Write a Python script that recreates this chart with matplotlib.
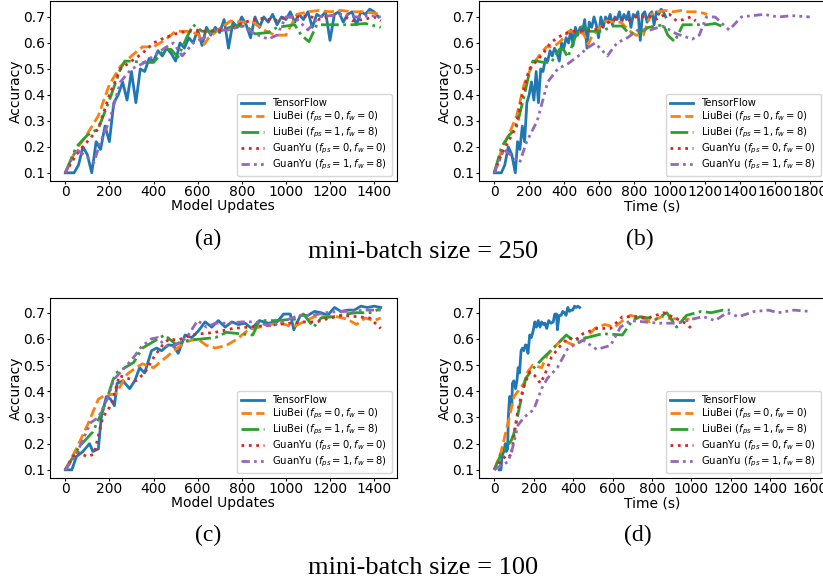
import matplotlib
matplotlib.use('Agg')
import matplotlib.pyplot as plt
from matplotlib.ticker import MultipleLocator

# ---- mini-batch size = 250 ----
# TensorFlow: accuracy per model update (every 20 updates) and wall-clock time
tf250_updates = list(range(0, 1440, 20))
tf250_acc = [0.10, 0.10, 0.10, 0.13, 0.20, 0.17, 0.10, 0.22, 0.19, 0.28,
             0.22, 0.37, 0.40, 0.45, 0.38, 0.49, 0.37, 0.50, 0.49, 0.54,
             0.53, 0.57, 0.55, 0.58, 0.56, 0.53, 0.60, 0.58, 0.62, 0.60,
             0.65, 0.59, 0.66, 0.63, 0.66, 0.64, 0.69, 0.58, 0.68, 0.66,
             0.70, 0.67, 0.62, 0.70, 0.66, 0.70, 0.68, 0.71, 0.67, 0.70,
             0.69, 0.72, 0.68, 0.71, 0.69, 0.72, 0.66, 0.71, 0.70, 0.72,
             0.61, 0.71, 0.72, 0.68, 0.71, 0.72, 0.67, 0.72, 0.71, 0.73,
             0.72, 0.70]
tf250_time = [0, 20, 40, 60, 80, 100, 120, 133, 146, 160, 173, 186, 199, 212,
              226, 239, 252, 265, 278, 292, 305, 318, 331, 344, 358, 371, 384,
              397, 410, 424, 437, 450, 463, 476, 490, 503, 516, 529, 542, 556,
              569, 582, 595, 608, 622, 635, 648, 661, 674, 688, 701, 714, 727,
              740, 754, 767, 780, 793, 806, 820, 833, 846, 859, 872, 886, 899,
              912, 925, 938, 952, 965, 978]

lb0_250_updates = [0, 50, 100, 150, 200, 250, 300, 350, 400, 450, 500, 550, 600,
                   630, 650, 700, 750, 800, 850, 900, 950, 1000, 1050, 1100,
                   1150, 1200, 1250, 1300, 1350, 1400, 1430]
lb0_250_acc = [0.10, 0.19, 0.25, 0.32, 0.44, 0.51, 0.55, 0.585, 0.585, 0.61,
               0.645, 0.645, 0.635, 0.595, 0.62, 0.655, 0.685, 0.68, 0.68, 0.65,
               0.63, 0.63, 0.71, 0.72, 0.725, 0.72, 0.725, 0.72, 0.72, 0.715,
               0.71]
lb0_250_time = [0, 43, 85, 128, 170, 213, 255, 298, 340, 383, 425, 468, 510,
                536, 553, 595, 638, 680, 723, 765, 808, 850, 893, 935, 978,
                1020, 1063, 1105, 1148, 1190, 1215]

lb1_250_updates = [0, 50, 100, 150, 200, 250, 270, 300, 350, 400, 450, 480, 510,
                   550, 580, 620, 700, 760, 820, 860, 920, 960, 1040, 1070,
                   1105, 1140, 1200, 1300, 1360, 1430]
lb1_250_acc = [0.10, 0.20, 0.245, 0.27, 0.38, 0.50, 0.53, 0.53, 0.525, 0.525,
               0.575, 0.575, 0.545, 0.62, 0.67, 0.645, 0.645, 0.665, 0.665,
               0.635, 0.64, 0.66, 0.67, 0.63, 0.605, 0.67, 0.67, 0.67, 0.675,
               0.66]
lb1_250_time = [0, 42, 84, 124, 165, 205, 220, 243, 283, 325, 371, 395, 420,
                460, 505, 545, 615, 675, 730, 770, 830, 880, 965, 990, 1029,
                1076, 1130, 1210, 1260, 1314]

gy0_250_updates = [0, 50, 100, 150, 200, 250, 300, 350, 400, 450, 500, 550, 600,
                   650, 700, 750, 800, 850, 900, 950, 1000, 1050, 1100, 1150,
                   1200, 1250, 1300, 1350, 1400, 1430]
gy0_250_acc = [0.10, 0.17, 0.22, 0.27, 0.40, 0.50, 0.53, 0.56, 0.60, 0.62,
               0.635, 0.645, 0.645, 0.645, 0.65, 0.655, 0.675, 0.69, 0.695,
               0.685, 0.70, 0.70, 0.705, 0.69, 0.705, 0.71, 0.685, 0.69, 0.70,
               0.685]
gy0_250_time = [0, 40, 80, 120, 160, 200, 240, 280, 320, 360, 400, 440, 480,
                520, 560, 600, 640, 680, 720, 760, 800, 840, 880, 920, 960,
                1000, 1040, 1080, 1120, 1150]

gy1_250_updates = [0, 50, 100, 130, 160, 200, 250, 300, 350, 400, 450, 490, 530,
                   580, 630, 680, 740, 800, 860, 920, 960, 1000, 1040, 1100,
                   1150, 1200, 1260, 1320, 1380, 1430]
gy1_250_acc = [0.10, 0.19, 0.16, 0.14, 0.22, 0.30, 0.45, 0.50, 0.52, 0.55,
               0.58, 0.60, 0.55, 0.60, 0.62, 0.65, 0.65, 0.665, 0.635, 0.615,
               0.63, 0.70, 0.70, 0.65, 0.70, 0.705, 0.71, 0.70, 0.705, 0.70]
gy1_250_time = [0, 55, 110, 145, 185, 245, 305, 362, 420, 480, 530, 575, 645,
                700, 760, 820, 890, 960, 1040, 1130, 1170, 1210, 1260, 1340,
                1410, 1470, 1540, 1620, 1700, 1800]

# ---- mini-batch size = 100 ----
tf100_updates = [0, 30, 50, 80, 110, 125, 150, 163, 186, 205, 223, 235, 261,
                 292, 315, 337, 360, 391, 414, 437, 467, 490, 512, 543, 573,
                 603, 634, 664, 694, 725, 755, 785, 815, 845, 880, 920, 960,
                 990, 1020, 1036, 1066, 1100, 1130, 1160, 1190, 1220, 1250,
                 1280, 1310, 1340, 1370, 1400, 1430]
tf100_acc = [0.10, 0.10, 0.15, 0.17, 0.20, 0.17, 0.18, 0.30, 0.38, 0.37,
             0.345, 0.43, 0.44, 0.41, 0.44, 0.49, 0.47, 0.555, 0.565, 0.555,
             0.577, 0.575, 0.545, 0.615, 0.605, 0.63, 0.665, 0.645, 0.67, 0.645,
             0.665, 0.655, 0.66, 0.64, 0.67, 0.66, 0.665, 0.695, 0.695, 0.635,
             0.69, 0.69, 0.705, 0.70, 0.69, 0.72, 0.705, 0.71, 0.71, 0.725,
             0.72, 0.725, 0.72]
tf100_time = [25, 34, 39, 48, 56, 61, 68, 71, 78, 83, 89, 92, 99, 108, 115, 121,
              128, 136, 143, 150, 158, 165, 171, 180, 188, 197, 206, 214, 223,
              232, 240, 249, 257, 266, 276, 287, 299, 307, 316, 320, 329, 339,
              347, 356, 364, 373, 381, 390, 398, 407, 415, 424, 433]

lb0_100_updates = [0, 50, 100, 150, 180, 230, 280, 320, 350, 400, 450, 500, 550,
                   600, 640, 680, 730, 780, 830, 880, 930, 980, 1030, 1080,
                   1130, 1180, 1230, 1280, 1320, 1360, 1400, 1430]
lb0_100_acc = [0.10, 0.18, 0.27, 0.37, 0.385, 0.39, 0.465, 0.49, 0.505, 0.49,
               0.525, 0.56, 0.59, 0.60, 0.575, 0.565, 0.575, 0.60, 0.635, 0.645,
               0.655, 0.66, 0.645, 0.665, 0.685, 0.685, 0.685, 0.675, 0.655,
               0.68, 0.67, 0.68]
lb0_100_time = [0, 35, 70, 100, 150, 170, 195, 240, 270, 300, 345, 375, 410,
                460, 510, 560, 610, 660, 690, 750, 790, 850, 900, 950, 990]
lb0_100_tacc = [0.10, 0.17, 0.28, 0.38, 0.43, 0.475, 0.50, 0.49, 0.54, 0.565,
                0.60, 0.585, 0.575, 0.60, 0.64, 0.655, 0.645, 0.675, 0.69, 0.68,
                0.665, 0.685, 0.675, 0.68, 0.675]

lb1_100_updates = [0, 65, 125, 155, 185, 215, 230, 270, 310, 350, 400, 450, 500,
                   560, 620, 680, 730, 790, 850, 880, 950, 1040, 1080, 1125,
                   1160, 1220, 1270, 1320, 1380, 1430]
lb1_100_acc = [0.10, 0.19, 0.245, 0.30, 0.36, 0.44, 0.47, 0.49, 0.51, 0.565,
               0.59, 0.615, 0.58, 0.595, 0.60, 0.605, 0.625, 0.62, 0.615, 0.67,
               0.67, 0.675, 0.695, 0.645, 0.68, 0.685, 0.695, 0.70, 0.70, 0.715]
lb1_100_time = [0, 40, 85, 100, 125, 160, 195, 245, 300, 365, 400, 470, 550,
                650, 700, 740, 820, 875, 925, 975, 1050, 1100, 1160, 1195]
lb1_100_tacc = [0.10, 0.17, 0.21, 0.24, 0.33, 0.45, 0.485, 0.525, 0.565, 0.615,
                0.595, 0.605, 0.62, 0.615, 0.67, 0.685, 0.675, 0.70, 0.645, 0.69,
                0.705, 0.70, 0.71, 0.71]

gy0_100_updates = [0, 50, 100, 130, 170, 210, 245, 280, 320, 360, 405, 440, 470,
                   510, 570, 620, 680, 760, 830, 900, 960, 1020, 1080, 1140,
                   1200, 1260, 1320, 1380, 1430]
gy0_100_acc = [0.10, 0.17, 0.15, 0.16, 0.30, 0.35, 0.46, 0.45, 0.44, 0.47,
               0.535, 0.575, 0.60, 0.595, 0.615, 0.62, 0.625, 0.64, 0.645, 0.65,
               0.655, 0.66, 0.665, 0.665, 0.68, 0.69, 0.685, 0.68, 0.64]
gy0_100_time = [0, 40, 70, 85, 100, 120, 150, 180, 205, 235, 265, 290, 325,
                375, 410, 450, 520, 590, 650, 720, 780, 860, 930, 970, 1000]
gy0_100_tacc = [0.10, 0.14, 0.16, 0.15, 0.23, 0.33, 0.42, 0.475, 0.46, 0.43,
                0.48, 0.53, 0.565, 0.605, 0.595, 0.62, 0.64, 0.64, 0.685, 0.685,
                0.68, 0.70, 0.675, 0.66, 0.64]

gy1_100_updates = [0, 50, 115, 150, 190, 220, 270, 315, 345, 390, 420, 450, 490,
                   550, 600, 640, 680, 740, 800, 860, 930, 980, 1060, 1120,
                   1180, 1240, 1300, 1360, 1430]
gy1_100_acc = [0.10, 0.16, 0.28, 0.30, 0.37, 0.445, 0.49, 0.535, 0.57, 0.60,
               0.605, 0.575, 0.57, 0.605, 0.67, 0.645, 0.66, 0.66, 0.665, 0.665,
               0.65, 0.665, 0.69, 0.69, 0.70, 0.705, 0.705, 0.71, 0.71]
gy1_100_time = [0, 40, 70, 95, 120, 150, 200, 240, 270, 320, 370, 410, 450, 520,
                590, 640, 690, 760, 830, 930, 1000, 1060, 1120, 1180, 1240,
                1320, 1390, 1440, 1520, 1600]
gy1_100_tacc = [0.10, 0.12, 0.13, 0.19, 0.27, 0.30, 0.33, 0.41, 0.45, 0.49,
                0.56, 0.58, 0.595, 0.56, 0.575, 0.645, 0.67, 0.665, 0.66, 0.66,
                0.675, 0.685, 0.67, 0.70, 0.685, 0.705, 0.71, 0.70, 0.71, 0.705]

labels = ['TensorFlow',
          r'LiuBei ($f_{ps}=0, f_w=0$)',
          r'LiuBei ($f_{ps}=1, f_w=8$)',
          r'GuanYu ($f_{ps}=0, f_w=0$)',
          r'GuanYu ($f_{ps}=1, f_w=8$)']
colors = ['C0', 'C1', 'C2', 'C3', 'C4']
styles = ['-', '--', '-.', ':', (0, (3, 1.5, 1, 1.5, 1, 1.5))]

fig = plt.figure(figsize=(8.23, 5.78), dpi=100)
W, H = 823.0, 578.0


def panel(left, top, curves, xlabel):
    ax = fig.add_axes([left / W, 1 - (top + 180) / H, 347 / W, 180 / H])
    for (x, y), lab, c, ls in zip(curves, labels, colors, styles):
        ax.plot(x, y, color=c, linestyle=ls, lw=2, label=lab)
    ax.set_xlabel(xlabel, fontsize=10, labelpad=0)
    ax.set_ylabel('Accuracy', fontsize=10, labelpad=0)
    ax.xaxis.set_major_locator(MultipleLocator(200))
    ax.yaxis.set_major_locator(MultipleLocator(0.1))
    ax.tick_params(labelsize=10, length=2, pad=1)
    ax.legend(loc='lower right', fontsize=7.2, labelspacing=0.15,
              handlelength=2.3, borderpad=0.4)
    return ax


panel(49.5, 1, [(tf250_updates, tf250_acc), (lb0_250_updates, lb0_250_acc),
                (lb1_250_updates, lb1_250_acc), (gy0_250_updates, gy0_250_acc),
                (gy1_250_updates, gy1_250_acc)], 'Model Updates')
panel(478.5, 1, [(tf250_time, tf250_acc), (lb0_250_time, lb0_250_acc),
                 (lb1_250_time, lb1_250_acc), (gy0_250_time, gy0_250_acc),
                 (gy1_250_time, gy1_250_acc)], 'Time (s)')
panel(49.5, 298, [(tf100_updates, tf100_acc), (lb0_100_updates, lb0_100_acc),
                  (lb1_100_updates, lb1_100_acc), (gy0_100_updates, gy0_100_acc),
                  (gy1_100_updates, gy1_100_acc)], 'Model Updates')
panel(478.5, 298, [(tf100_time, tf100_acc), (lb0_100_time, lb0_100_tacc),
                   (lb1_100_time, lb1_100_tacc), (gy0_100_time, gy0_100_tacc),
                   (gy1_100_time, gy1_100_tacc)], 'Time (s)')

serif = dict(family='Liberation Serif', ha='center', va='baseline')
fig.text(208 / W, 1 - 245 / H, '(a)', fontsize=17, **serif)
fig.text(640 / W, 1 - 245 / H, '(b)', fontsize=17, **serif)
fig.text(423 / W, 1 - 258 / H, 'mini-batch size = 250', fontsize=19, **serif)
fig.text(208 / W, 1 - 541 / H, '(c)', fontsize=17, **serif)
fig.text(638 / W, 1 - 541 / H, '(d)', fontsize=17, **serif)
fig.text(423 / W, 1 - 574 / H, 'mini-batch size = 100', fontsize=19, **serif)

fig.savefig('out.png', dpi=100)
